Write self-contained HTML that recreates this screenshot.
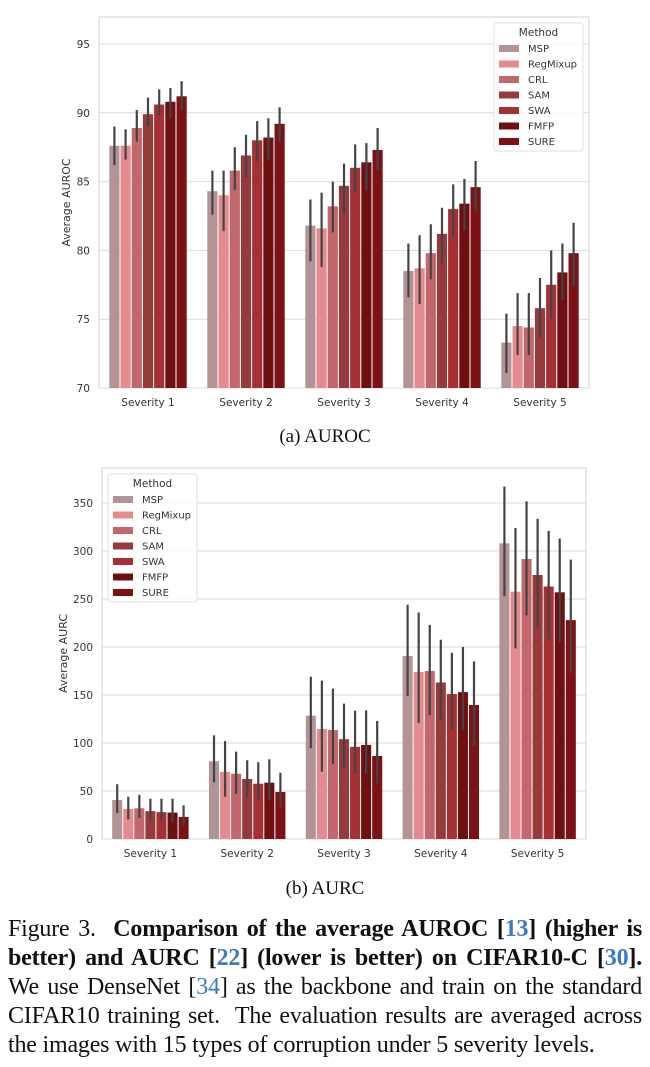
<!DOCTYPE html>
<html><head><meta charset="utf-8">
<style>
html,body{margin:0;padding:0;background:#fff;}
body{width:650px;height:1067px;position:relative;overflow:hidden;}
svg text{font-family:"DejaVu Sans","Liberation Sans",sans-serif;}
.sub{position:absolute;left:0;width:650px;text-align:center;font-family:"Liberation Serif",serif;font-size:19px;color:#111;}
.cap{position:absolute;left:8px;width:634px;font-family:"Liberation Serif",serif;font-size:24px;color:#111;}
.ln{position:absolute;left:0;width:634px;white-space:nowrap;text-align:justify;text-align-last:justify;letter-spacing:-0.2px;}
.ln.last{text-align-last:left;}
.c{color:#3b7bbf;}
</style></head><body>
<svg id="c1" width="650" height="420" style="position:absolute;left:0;top:0"></svg>
<div class="sub" style="top:426px">(a) AUROC</div>
<svg id="c2" width="650" height="420" style="position:absolute;left:0;top:455px"></svg>
<div class="sub" style="top:878px">(b) AURC</div>
<div class="cap">
<div class="ln" style="top:916px">Figure 3.&nbsp; <b>Comparison of the average AUROC [<span class="c">13</span>] (higher is</b></div>
<div class="ln" style="top:945px"><b>better) and AURC [<span class="c">22</span>] (lower is better) on CIFAR10-C [<span class="c">30</span>].</b></div>
<div class="ln" style="top:974px">We use DenseNet [<span class="c">34</span>] as the backbone and train on the standard</div>
<div class="ln" style="top:1003px">CIFAR10 training set.&nbsp; The evaluation results are averaged across</div>
<div class="ln last" style="top:1032px">the images with 15 types of corruption under 5 severity levels.</div>
</div>
<script>
const categories=["Severity 1","Severity 2","Severity 3","Severity 4","Severity 5"];
const methods=["MSP","RegMixup","CRL","SAM","SWA","FMFP","SURE"];
const colors=["#b39396","#e38b8e","#c2676b","#963a3c","#a53035","#6e0f12","#7e1116"];
// AUROC values [method][severity]
const aurocMean=[[87.6,84.3,81.8,78.5,73.3],[87.6,84.0,81.6,78.7,74.5],[88.9,85.8,83.2,79.8,74.4],[89.9,86.9,84.7,81.2,75.8],[90.6,88.0,86.0,83.0,77.5],[90.8,88.2,86.4,83.4,78.4],[91.2,89.2,87.3,84.6,79.8]];
const aurocLo=[[86.2,82.6,79.2,76.6,71.1],[86.6,81.4,78.8,76.1,72.4],[87.9,84.4,81.3,77.9,72.4],[89.0,85.3,82.7,79.0,73.7],[89.8,86.5,84.2,81.0,75.0],[89.6,86.6,84.4,81.5,76.4],[90.2,87.9,85.8,82.8,77.4]];
const aurocHi=[[89.0,85.8,83.7,80.5,75.4],[88.8,85.8,84.2,81.1,76.9],[90.2,87.5,85.0,81.9,76.9],[91.1,88.4,86.3,83.1,78.0],[91.7,89.4,87.7,84.8,80.0],[91.8,89.6,87.8,85.2,80.5],[92.3,90.4,88.9,86.5,82.0]];
const aurocTicks=[70,75,80,85,90,95];
// AURC values
const aurcMean=[[40.6,81,128.5,190.6,308],[31.3,70,114.6,174,257.6],[32,68,113.5,175,291.7],[29,62.5,104,163,275],[28,57.6,96,151,263],[27.5,58.7,98,153,257],[23,49,86.5,139.6,228]];
const aurcLo=[[27,59,94.5,149,253],[20.5,44,70,121,198.6],[22,47,78,129,233],[19.5,43,74.6,124.6,220],[19,41,68,114,208],[17,40,68,114,204.5],[14,33,58,97,172.6]];
const aurcHi=[[57,108,169,244,367],[44,102,165,236,324],[46,91,156.6,223,351.7],[42,82,141,207.6,333.6],[42,80,133.7,194,321],[42,83,134,200,313],[35,69,123,185,291]];
const aurcTicks=[0,50,100,150,200,250,300,350];

const NS="http://www.w3.org/2000/svg";
function mk(svg,tag,attrs,txt){const e=document.createElementNS(NS,tag);for(const k in attrs)e.setAttribute(k,attrs[k]);if(txt!==undefined)e.textContent=txt;svg.appendChild(e);return e;}

function draw(svg,o){
  const yS=v=>o.bottom-(v-o.ymin)/(o.ymax-o.ymin)*(o.bottom-o.yTickTop);
  const step=(o.right-o.left)/categories.length;
  const gw=step*0.8, bw=gw/methods.length;
  const bg=mk(svg,'rect',{x:o.left,y:o.top,width:o.right-o.left,height:o.bottom-o.top,fill:'#fff',stroke:'#d0d0d0','stroke-width':1});
  
  
  o.ticks.forEach(t=>{
    const y=yS(t);
    const g=mk(svg,'line',{x1:o.left,x2:o.right,y1:y,y2:y,stroke:'#dadada','stroke-width':1});
    
    
    const tl=mk(svg,'text',{x:o.left-9,y:y+4,'font-size':10.5,fill:'#333','text-anchor':'end'},String(t));
    
    
  });
  categories.forEach((c,ci)=>{
    const cx=o.left+step*(ci+0.5);
    methods.forEach((m,mi)=>{
      const x=cx-gw/2+mi*bw;
      const v=o.mean[mi][ci];
      const r=mk(svg,'rect',{x:x+0.5,y:yS(v),width:bw-1,height:o.bottom-yS(v),fill:colors[mi]});
      
      
      const e=mk(svg,'line',{x1:x+bw/2,x2:x+bw/2,y1:yS(o.lo[mi][ci]),y2:yS(o.hi[mi][ci]),stroke:'#444','stroke-width':2.2});
      
      
    });
    const xl=mk(svg,'text',{x:cx,y:o.bottom+18,'font-size':10.5,fill:'#333','text-anchor':'middle'},c);
    
    
  });
  const yt=mk(svg,'text',{x:0,y:0,'font-size':11,fill:'#333','text-anchor':'middle',transform:`translate(${o.ytX},${(o.top+o.bottom)/2}) rotate(-90)`},o.ytitle);
  
  
  const L=o.leg;
  const lb=mk(svg,'rect',{x:L.x,y:L.y,width:89,height:128,rx:3,fill:'#fff','fill-opacity':0.85,stroke:'#e2e2e2'});
  
  
  const lt=mk(svg,'text',{x:L.x+44.5,y:L.y+13,'font-size':10.5,fill:'#333','text-anchor':'middle'},'Method');
  
  
  methods.forEach((m,mi)=>{
    const y=L.y+25+mi*15.5;
    const s=mk(svg,'rect',{x:L.x+5,y:y-3,width:20,height:7,fill:colors[mi]});
    
    
    const t=mk(svg,'text',{x:L.x+34,y:y+4,'font-size':10,fill:'#333'},m);
    
    
  });
}
draw(document.getElementById('c1'),{left:99,right:589,top:17,bottom:388,yTickTop:44,ymin:70,ymax:95,ticks:aurocTicks,mean:aurocMean,lo:aurocLo,hi:aurocHi,ytitle:'Average AUROC',ytX:70,leg:{x:494,y:23}});
draw(document.getElementById('c2'),{left:102,right:586,top:13,bottom:384,yTickTop:48,ymin:0,ymax:350,ticks:aurcTicks,mean:aurcMean,lo:aurcLo,hi:aurcHi,ytitle:'Average AURC',ytX:67,leg:{x:108,y:19}});
</script>
</body></html>
